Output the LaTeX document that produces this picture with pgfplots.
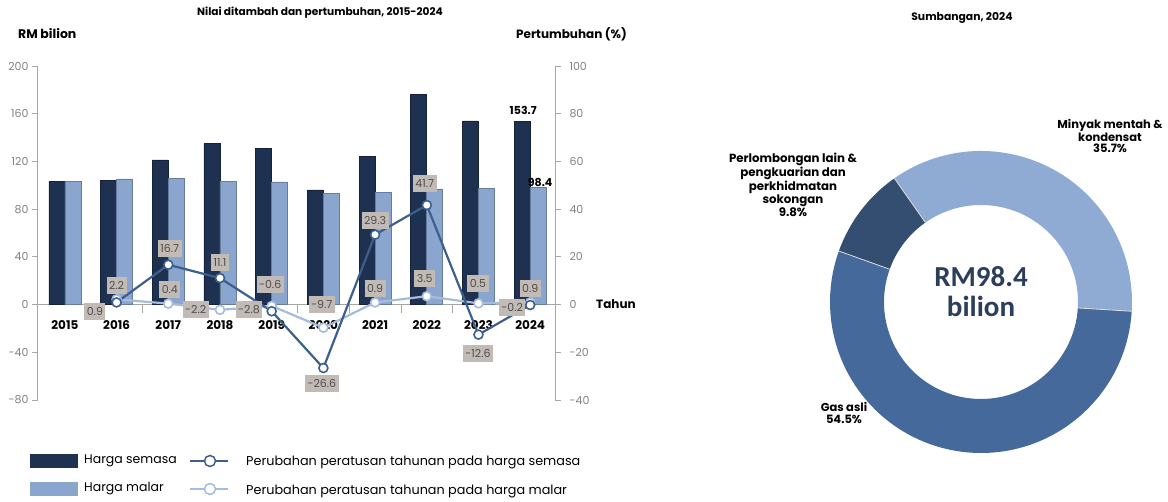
\documentclass[border=0pt]{standalone}
\usepackage{fontspec}
\setmainfont{Poppins}
\newfontfamily\centerfont{Carlito}
\usepackage{pgfplots}
\usepackage{pgfplotstable}
\pgfplotsset{compat=1.18}

\definecolor{semasa}{HTML}{1E3150}
\definecolor{malar}{HTML}{8AA6CF}
\definecolor{lsemasa}{HTML}{3D5F8E}
\definecolor{lmalar}{HTML}{A5BCDD}
\definecolor{axgray}{HTML}{A6A6A6}
\definecolor{tickgray}{HTML}{808080}
\definecolor{labbg}{HTML}{C2BBB5}
\definecolor{labtxt}{HTML}{4D4D4D}
\definecolor{dminyak}{HTML}{8FABD4}
\definecolor{dgas}{HTML}{46699B}
\definecolor{dlain}{HTML}{344E72}
\definecolor{centertxt}{HTML}{2C3E5C}

% nilai ditambah, RM bilion
\pgfplotstableread{
x semasa malar
0 103.0 103.1
1 104.0 105.4
2 121.3 105.8
3 134.8 103.5
4 131.0 102.9
5 96.2  92.9
6 124.3 93.7
7 176.2 97.0
8 154.0 97.5
9 153.7 98.4
}\nilai

% pertumbuhan, %
\pgfplotstableread{
x gsemasa gmalar
1 0.9   2.2
2 16.7  0.4
3 11.1  -2.2
4 -2.8  -0.6
5 -26.6 -9.7
6 29.3  0.9
7 41.7  3.5
8 -12.6 0.5
9 -0.2  0.9
}\growth

\newcommand{\fs}[1]{\fontsize{#1}{#1}\selectfont}
\tikzset{lab/.style={fill=labbg, text=labtxt, font=\fs{11}, inner sep=2.5pt, minimum height=17pt}}

\begin{document}
\begin{tikzpicture}
\path[use as bounding box] (0pt,0pt) rectangle (1168pt,-502pt);

\pgfplotsset{base/.style={
  at={(38pt,-400pt)}, anchor=south west,
  scale only axis, width=517pt, height=334pt,
  xmin=-0.52, xmax=9.48, clip=false,
  /pgf/number format/assume math mode=true,
  axis line style={axgray, line width=1pt},
  tick style={axgray, line width=0.8pt},
  major tick length=6pt, tick align=outside,
  yticklabel style={font=\fs{11}, text=tickgray},
}}

% bars
\begin{axis}[base,
  ymin=-80, ymax=200, ytick={-80,-40,...,200},
  axis y line*=left, axis x line*=middle,
  xtick={0,...,9},
  xticklabels={2015,2016,2017,2018,2019,2020,2021,2022,2023,2024},
  xticklabel style={font=\bfseries\fs{12}, text=black, yshift=-6pt},
  major x tick style={draw=none},
  minor xtick={0.5,1.5,...,8.5}, minor tick length=8pt,
]
\addplot[ybar, bar width=16pt, bar shift=-8pt, fill=semasa, draw=semasa!70!black, line width=0.6pt]
  table[x=x, y=semasa]{\nilai};
\addplot[ybar, bar width=16pt, bar shift=8pt, fill=malar, draw=malar!75!black, line width=0.6pt]
  table[x=x, y=malar]{\nilai};
\node[font=\bfseries\fs{11}, anchor=south, inner sep=1pt] at (axis cs:9,153.7) [xshift=-7pt, yshift=5pt] {153.7};
\node[font=\bfseries\fs{11}, anchor=south, inner sep=1pt] at (axis cs:9,98.4) [xshift=10pt, yshift=-1pt] {98.4};
\end{axis}

% growth lines
\begin{axis}[base,
  ymin=-40, ymax=100, ytick={-40,-20,...,100},
  axis y line*=right, axis x line=none,
  yticklabel style={xshift=5pt},
]
\addplot[lmalar, line width=2.2pt, mark=*, mark size=4.5pt,
  mark options={fill=white, draw=lmalar, line width=1.6pt}]
  table[x=x, y=gmalar]{\growth};
\addplot[lsemasa, line width=2.2pt, mark=*, mark size=4.5pt,
  mark options={fill=white, draw=lsemasa, line width=1.6pt}]
  table[x=x, y=gsemasa]{\growth};
% label harga semasa
\node[lab] at (axis cs:0.58,-2.9) {0.9};
\node[lab] at (axis cs:2.03,23.5) {16.7};
\node[lab] at (axis cs:3.0,17.6) {11.1};
\node[lab] at (axis cs:3.56,-2.1) {-2.8};
\node[lab] at (axis cs:4.97,-33.1) {-26.6};
\node[lab] at (axis cs:6.0,35.2) {29.3};
\node[lab] at (axis cs:6.96,50.7) {41.7};
\node[lab] at (axis cs:7.99,-20.5) {-12.6};
\node[lab] at (axis cs:8.65,-1.3) {-0.2};
% label harga malar
\node[lab] at (axis cs:1.0,8.0) {2.2};
\node[lab] at (axis cs:2.03,6.3) {0.4};
\node[lab] at (axis cs:2.53,-2.1) {-2.2};
\node[lab] at (axis cs:3.97,8.4) {-0.6};
\node[lab] at (axis cs:4.97,0) {-9.7};
\node[lab] at (axis cs:6.0,6.7) {0.9};
\node[lab] at (axis cs:6.96,10.9) {3.5};
\node[lab] at (axis cs:7.99,8.8) {0.5};
\node[lab] at (axis cs:9.0,6.7) {0.9};
\end{axis}

% titles
\node[font=\bfseries\fs{10.6}] at (320pt,-13pt) {Nilai ditambah dan pertumbuhan, 2015-2024};
\node[font=\bfseries\fs{12.5}, anchor=west, inner sep=0pt] at (18pt,-34pt) {RM bilion};
\node[font=\bfseries\fs{12}, anchor=east, inner sep=0pt] at (627pt,-34pt) {Pertumbuhan (\%)};
\node[font=\bfseries\fs{12}, anchor=west, inner sep=0pt] at (596pt,-304pt) {Tahun};

% legend
\fill[semasa] (30pt,-454pt) rectangle (78pt,-468pt);
\fill[malar] (30pt,-482pt) rectangle (78pt,-496pt);
\node[font=\fs{12.5}, anchor=west, inner sep=0pt] at (84pt,-461pt) {Harga semasa};
\node[font=\fs{12.5}, anchor=west, inner sep=0pt] at (84pt,-489pt) {Harga malar};
\draw[lsemasa, line width=2pt] (190pt,-461pt) -- (228pt,-461pt);
\draw[lsemasa, line width=1.5pt, fill=white] (210pt,-461pt) circle (5.5pt);
\draw[lmalar, line width=2pt] (190pt,-489pt) -- (228pt,-489pt);
\draw[lmalar, line width=1.5pt, fill=white] (210pt,-489pt) circle (5.5pt);
\node[font=\fs{12.8}, anchor=west, inner sep=0pt] at (246pt,-462pt) {Perubahan peratusan tahunan pada harga semasa};
\node[font=\fs{12.8}, anchor=west, inner sep=0pt] at (246pt,-491pt) {Perubahan peratusan tahunan pada harga malar};

% donut: sumbangan 2024
\node[font=\bfseries\fs{10.8}] at (962pt,-18pt) {Sumbangan, 2024};
\begin{scope}[shift={(981pt,-302pt)}]
\def\Ro{151pt}\def\Ri{97pt}
\pgfmathsetmacro\aA{125}
\pgfmathsetmacro\aB{\aA-35.7*3.6}
\pgfmathsetmacro\aC{\aB-54.5*3.6}
\pgfmathsetmacro\aD{\aC-9.8*3.6}
\fill[dminyak] (\aA:\Ro) arc[start angle=\aA, end angle=\aB, radius=\Ro] -- (\aB:\Ri) arc[start angle=\aB, end angle=\aA, radius=\Ri] -- cycle;
\fill[dgas] (\aB:\Ro) arc[start angle=\aB, end angle=\aC, radius=\Ro] -- (\aC:\Ri) arc[start angle=\aC, end angle=\aB, radius=\Ri] -- cycle;
\fill[dlain] (\aC:\Ro) arc[start angle=\aC, end angle=\aD, radius=\Ro] -- (\aD:\Ri) arc[start angle=\aD, end angle=\aC, radius=\Ri] -- cycle;
\foreach \a in {\aA,\aB,\aC} \draw[white!75!gray, line width=0.8pt] (\a:\Ri) -- (\a:\Ro);
\node[font=\centerfont\bfseries\fs{29}, text=centertxt, anchor=base] at (0pt,15pt) {RM98.4};
\node[font=\centerfont\bfseries\fs{29}, text=centertxt, anchor=base] at (0pt,-15pt) {bilion};
\end{scope}
\node[font=\bfseries\fs{11.5}, align=center, inner sep=0pt] at (1110pt,-136pt) {Minyak mentah \&\\kondensat\\35.7\%};
\node[font=\bfseries\fs{11.8}, align=center, inner sep=0pt] at (793pt,-185pt) {Perlombongan lain \&\\pengkuarian dan\\perkhidmatan\\sokongan\\9.8\%};
\node[font=\bfseries\fs{11.5}, align=center, inner sep=0pt] at (844pt,-413pt) {Gas asli\\54.5\%};
\end{tikzpicture}
\end{document}
